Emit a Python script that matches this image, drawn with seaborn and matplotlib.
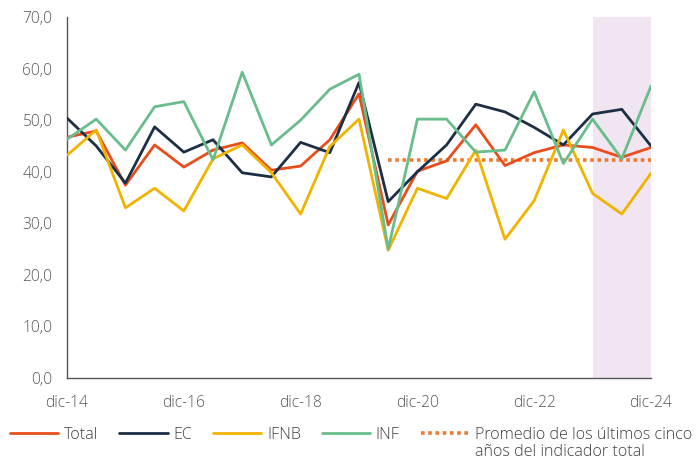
import numpy as np
import pandas as pd
import matplotlib
matplotlib.use("Agg")
import matplotlib.pyplot as plt
from matplotlib.lines import Line2D
import seaborn as sns

# ==========================================
# DATA (semestral, dic-14 .. dic-24)
# ==========================================
periods = ["dic-14", "jun-15", "dic-15", "jun-16", "dic-16", "jun-17", "dic-17",
           "jun-18", "dic-18", "jun-19", "dic-19", "jun-20", "dic-20", "jun-21",
           "dic-21", "jun-22", "dic-22", "jun-23", "dic-23", "jun-24", "dic-24"]

total = [46.7, 47.9, 37.4, 45.2, 40.9, 44.2, 45.6, 40.3, 41.1, 46.2, 55.1,
         29.7, 40.1, 42.1, 49.1, 41.2, 43.7, 45.2, 44.7, 42.8, 44.7]
ec = [50.4, 45.0, 37.8, 48.7, 43.8, 46.2, 39.8, 39.0, 45.7, 43.7, 57.3,
      34.2, 40.0, 45.2, 53.1, 51.6, 48.6, 45.2, 51.2, 52.1, 45.0]
ifnb = [43.2, 48.1, 33.0, 36.8, 32.4, 42.5, 45.2, 39.8, 31.8, 44.9, 50.2,
        24.8, 36.8, 34.8, 44.2, 26.9, 34.4, 48.1, 35.8, 31.8, 39.7]
inf = [46.3, 50.2, 44.2, 52.6, 53.6, 42.3, 59.3, 45.2, 50.0, 56.0, 58.9,
       25.0, 50.2, 50.2, 43.8, 44.2, 55.5, 41.6, 50.2, 42.5, 56.6]

avg_total = 42.3          # promedio últimos cinco años (jun-20 .. dic-24)
avg_start = "jun-20"
shade_start, shade_end = "dic-23", "dic-24"

tick_labels = ["dic-14", "dic-16", "dic-18", "dic-20", "dic-22", "dic-24"]

series_names = ["Total", "EC", "IFNB", "INF"]
avg_label = ["Promedio de los últimos cinco", "años del indicador total"]
colors = {"Total": "#e84e1b", "EC": "#1c2f45", "IFNB": "#efb300", "INF": "#68bd8b"}
avg_color = "#ec7b32"

# ==========================================
# LONG FORMAT
# ==========================================
idx = np.arange(len(periods))
df = pd.DataFrame({"t": idx, "Total": total, "EC": ec, "IFNB": ifnb, "INF": inf})
df_long = df.melt(id_vars="t", var_name="serie", value_name="valor")

# ==========================================
# PLOT
# ==========================================
sns.set_style("white")
plt.rcParams["font.family"] = ["Open Sans", "DejaVu Sans"]
plt.rcParams["font.weight"] = "light"

fig = plt.figure(figsize=(6.99, 4.65), dpi=100)
ax = fig.add_axes([0.0959, 0.187, 0.8354, 0.7764])

ax.axvspan(periods.index(shade_start), periods.index(shade_end),
           color="#f2e5f2", lw=0, zorder=0)

sns.lineplot(data=df_long, x="t", y="valor", hue="serie", hue_order=series_names,
             palette=colors, linewidth=2.0, ax=ax, legend=False, zorder=3)

a0 = periods.index(avg_start)
ax.plot([a0, len(periods) - 1], [avg_total, avg_total], color=avg_color,
        linestyle=(0, (1, 1)), linewidth=2.6, zorder=2)

ax.set_xlim(0, len(periods) - 1)
ax.set_ylim(0, 70)
ax.set_xticks([periods.index(l) for l in tick_labels])
ax.set_xticklabels(tick_labels)
yt = np.arange(0, 71, 10)
ax.set_yticks(yt)
ax.set_yticklabels([f"{v:.1f}".replace(".", ",") for v in yt])
ax.set_xlabel("")
ax.set_ylabel("")

for s in ["top", "right"]:
    ax.spines[s].set_visible(False)
for s in ["left", "bottom"]:
    ax.spines[s].set_color("#555555")
    ax.spines[s].set_linewidth(1.0)

ax.tick_params(axis="x", direction="in", length=5, width=1, color="#555555",
               pad=12, labelsize=11.2, labelcolor="#555555")
ax.tick_params(axis="y", direction="in", length=5, width=1, color="#555555",
               pad=10.5, labelsize=11.2, labelcolor="#555555")

# Legend (single-line row, second line of the last label added as text)
handles = [Line2D([], [], color=colors[n], lw=2.0) for n in series_names]
handles.append(Line2D([], [], color=avg_color, lw=2.6, linestyle=(0, (1, 1))))
labels = series_names + [avg_label[0]]
leg = fig.legend(handles, labels, loc="center", bbox_to_anchor=(0.502, 1 - 435 / 465), ncol=5,
                 frameon=False, fontsize=11.6, handlelength=3.0, handletextpad=0.35,
                 columnspacing=1.3, labelcolor="#404040", borderpad=0)

fig.canvas.draw()
last = leg.get_texts()[-1].get_window_extent()
x0, _ = fig.transFigure.inverted().transform((last.x0, last.y0))
fig.text(x0, 1 - 452 / 465, avg_label[1], fontsize=11.6, color="#404040",
         ha="left", va="center")

fig.savefig("out.png", dpi=100)
